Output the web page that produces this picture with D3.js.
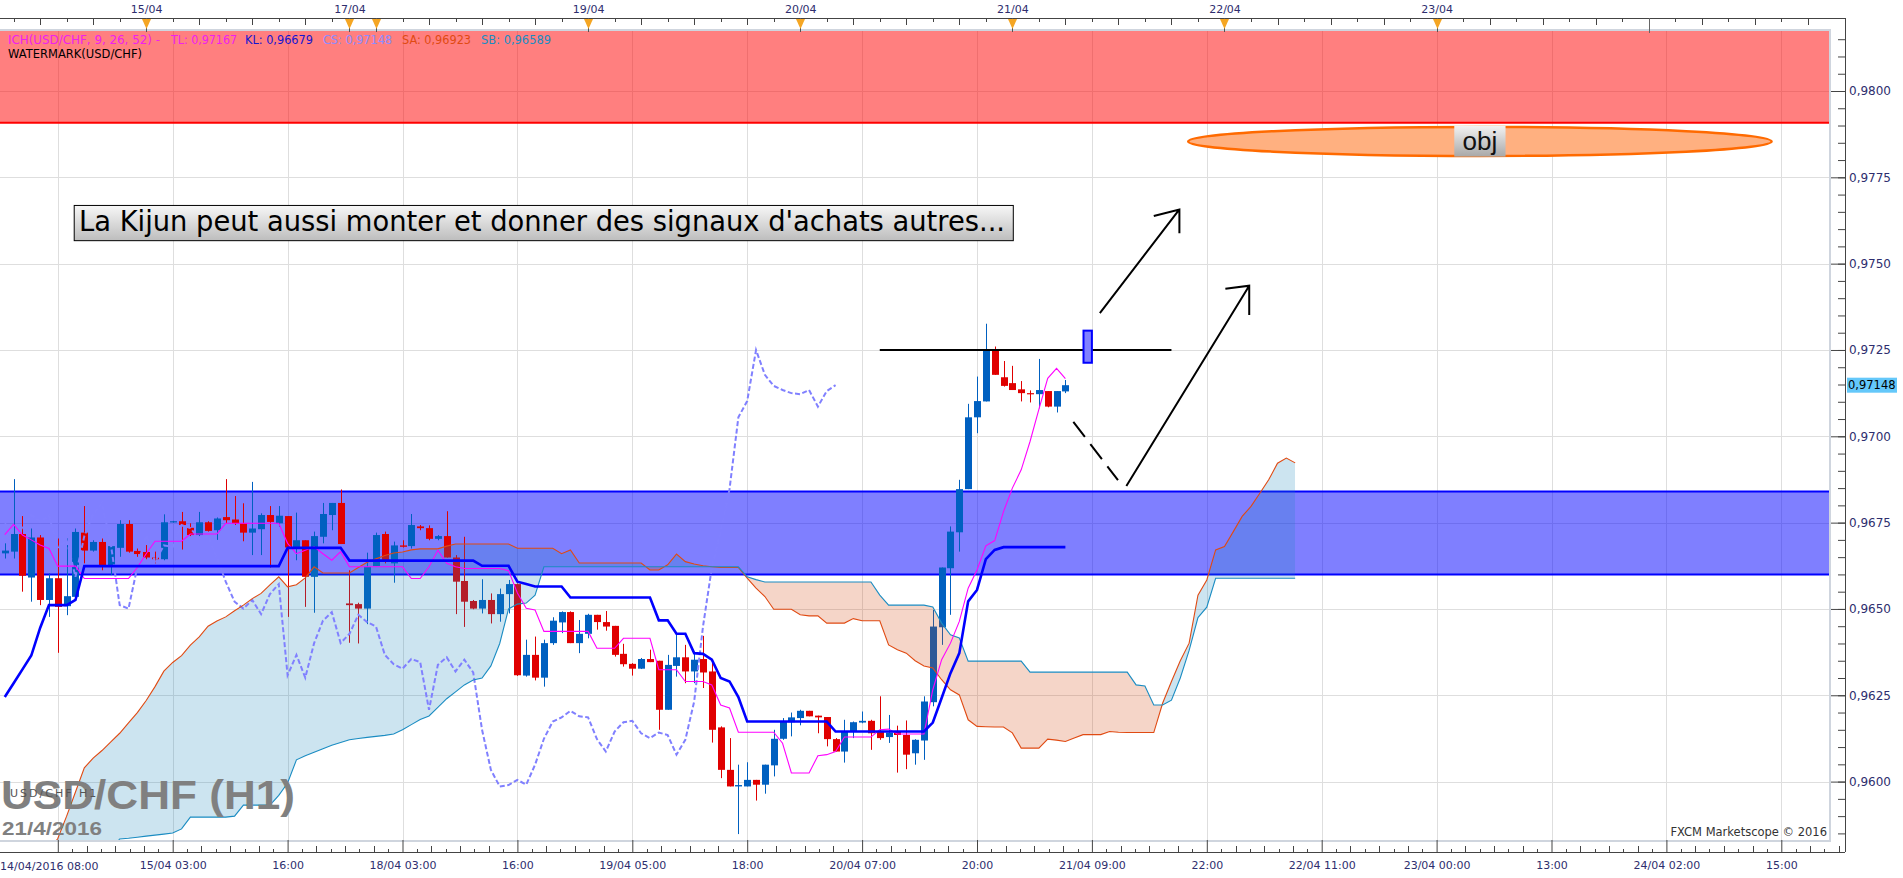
<!DOCTYPE html>
<html><head><meta charset="utf-8">
<script src="https://cdn.jsdelivr.net/npm/d3@7"></script>
<style>html,body{margin:0;padding:0;background:#fff;overflow:hidden}</style>
</head><body>
<svg id="c" width="1903" height="878"></svg>
<script>
// ---------------- DATA ----------------
const firstBar = -19; // bar index of first visible candle (0 = 15/04 03:00)
const opens = [
.96661,.96666,.96717,.96591,.96707,.96526,.96589,.96508,.96535,.96721,.96669,.96694,.96627,.96677,.96746,.96668,.96665,.96649,.96644,
.96751,.96754,.96735,.96714,.96751,.96728,.96766,.96759,.96748,.96721,.96731,.96772,.96748,.96769,.96678,.96699,.96593,.96709,.96772,.96807,
.96516,.96514,.96501,.96624,.96717,.96632,.96684,.96682,.96739,.96734,.96703,.96711,.96649,.96581,.96523,.96501,.96526,.96485,.96543,.96572,
.96307,.96367,.96301,.96401,.96461,.96491,.96401,.96428,.96483,.96462,.96451,.96370,.96341,.96327,.96355,.96350,.96208,.96335,.96360,.96319,
.96355,.96319,.96157,.96034,.95986,.95986,.96005,.95991,.96047,.96124,.96172,.96184,.96205,.96191,.96187,.96123,.96087,.96145,.96171,.96176,
.96145,.96129,.96145,.96135,.96082,.96119,.96230,.96447,.96618,.96722,.96847,.97055,.97101,.97250,.97171,.97154,.97136,.97125,.97122,.97131,
.97086,.97130];
const highs = [
.96690,.96876,.96769,.96733,.96714,.96603,.96704,.96704,.96733,.96798,.96699,.96704,.96685,.96757,.96757,.96675,.96685,.96666,.96774,
.96755,.96781,.96748,.96781,.96754,.96765,.96876,.96827,.96806,.96868,.96777,.96798,.96798,.96769,.96779,.96699,.96724,.96807,.96807,.96846,
.96612,.96518,.96663,.96721,.96724,.96695,.96699,.96775,.96743,.96742,.96714,.96783,.96656,.96709,.96526,.96586,.96545,.96559,.96584,.96574,
.96411,.96420,.96411,.96476,.96493,.96493,.96468,.96486,.96483,.96494,.96451,.96399,.96343,.96358,.96382,.96350,.96367,.96428,.96396,.96372,
.96422,.96348,.96160,.96126,.96049,.96056,.96005,.96049,.96150,.96184,.96200,.96208,.96205,.96191,.96187,.96126,.96179,.96174,.96203,.96179,
.96247,.96193,.96162,.96177,.96123,.96247,.96497,.96620,.96739,.96874,.97094,.97173,.97326,.97260,.97218,.97204,.97160,.97133,.97224,.97131,
.97131,.97163];
const lows = [
.96646,.96646,.96550,.96521,.96511,.96477,.96373,.96482,.96535,.96632,.96666,.96612,.96598,.96651,.96663,.96651,.96644,.96632,.96641,
.96750,.96672,.96711,.96711,.96724,.96700,.96748,.96743,.96696,.96656,.96656,.96620,.96738,.96477,.96641,.96506,.96489,.96690,.96728,.96688,
.96402,.96400,.96456,.96624,.96632,.96576,.96678,.96675,.96728,.96699,.96699,.96649,.96485,.96448,.96499,.96487,.96458,.96463,.96487,.96306,
.96304,.96293,.96275,.96396,.96430,.96401,.96372,.96415,.96440,.96437,.96362,.96333,.96307,.96326,.96346,.96150,.96208,.96304,.96285,.96285,
.96271,.96113,.96010,.95986,.95848,.95986,.95945,.95965,.96015,.96121,.96131,.96163,.96189,.96140,.96102,.96087,.96055,.96126,.96169,.96092,
.96121,.96112,.96026,.96036,.96049,.96063,.96218,.96396,.96483,.96666,.96847,.97009,.97101,.97178,.97144,.97134,.97101,.97098,.97081,.97084,
.97069,.97125];
const closes = [
.96669,.96717,.96596,.96707,.96526,.96589,.96506,.96537,.96723,.96669,.96694,.96627,.96682,.96746,.96666,.96659,.96649,.96644,.96751,
.96754,.96743,.96714,.96751,.96726,.96762,.96757,.96748,.96721,.96733,.96772,.96752,.96770,.96678,.96699,.96593,.96711,.96775,.96807,.96688,
.96511,.96501,.96622,.96714,.96637,.96684,.96680,.96743,.96734,.96703,.96711,.96649,.96579,.96521,.96501,.96526,.96485,.96543,.96572,.96308,
.96367,.96301,.96401,.96466,.96491,.96401,.96428,.96483,.96462,.96449,.96367,.96340,.96327,.96355,.96346,.96208,.96338,.96360,.96319,.96353,
.96316,.96150,.96034,.95986,.95990,.96005,.95991,.96049,.96124,.96174,.96186,.96205,.96189,.96186,.96123,.96087,.96145,.96172,.96176,.96140,
.96126,.96142,.96135,.96078,.96121,.96232,.96449,.96620,.96724,.96847,.97055,.97102,.97250,.97178,.97146,.97134,.97125,.97122,.97134,.97086,
.97131,.97148];
// Tenkan-sen (bars -19..101)
const tenkan = [
.96715,.96745,.96714,.96700,.96685,.96675,.96624,.96624,.96624,.96588,.96588,.96588,.96588,.96588,.96588,.96620,.96660,.96696,.96696,
.96696,.96696,.96717,.96717,.96717,.96717,.96748,.96748,.96748,.96748,.96748,.96748,.96748,
.96690,.96660,.96670,.96680,.96660,.96641,.96666,.96622,
.96622,.96622,.96622,.96622,.96622,.96622,
.96588,.96588,.96622,.96670,.96632,.96622,
.96617,.96617,.96617,.96617,.96617,
.96611,.96546,.96502,.96497,
.96435,.96435,.96435,.96435,.96435,.96435,
.96386,.96386,.96386,
.96415,.96415,.96415,.96415,
.96324,.96324,.96324,
.96290,.96290,.96290,
.96280,.96222,.96213,
.96143,.96143,.96143,.96143,.96143,
.96111,
.96025,.96025,.96025,
.96075,.96078,.96087,
.96129,.96129,.96129,.96129,
.96150,.96152,
.96138,.96138,.96138,.96138,
.96266,.96353,.96401,.96464,.96560,.96613,.96683,.96698,.96782,.96850,.96903,.96985,.97078,.97168,.97197,.97167];
// Kijun-sen (bars -19..101)
const kijun = [
.96245,.96285,.96325,.96365,.96445,.96511,.96511,.96511,.96526,.96624,
.96624,.96624,.96624,.96624,.96624,.96624,.96624,.96624,.96624,.96624,.96624,.96624,.96624,.96624,.96624,.96624,.96624,.96624,.96624,.96624,.96624,.96624,
.96677,.96677,.96677,.96677,.96677,.96677,.96677,
.96640,.96640,.96640,.96640,.96640,.96640,.96640,.96640,.96640,.96640,.96640,.96640,.96640,.96640,.96640,
.96625,.96625,.96625,.96625,
.96579,.96572,
.96565,.96565,.96565,.96565,
.96533,.96533,.96533,.96533,.96533,.96533,.96533,.96533,.96533,.96533,
.96467,.96467,.96428,.96428,.96372,.96370,.96353,.96300,.96290,.96245,
.96174,.96174,.96174,.96174,.96174,.96174,.96174,.96174,.96174,.96174,
.96145,.96145,.96145,.96145,.96145,.96145,.96145,.96145,.96145,.96145,.96145,
.96171,.96242,.96314,.96372,.96522,.96555,.96644,.96671,
.96679,.96679,.96679,.96679,.96679,.96679,.96679,.96679];
// Chikou span (bars -19..75)
const chikou = [
.96748,.96721,.96733,.96772,.96752,.96770,.96678,.96699,.96593,.96711,.96775,.96807,.96688,.96511,.96501,.96622,.96714,.96637,.96684,
.96680,.96743,.96734,.96703,.96711,.96649,.96579,.96521,.96501,.96526,.96485,.96543,.96572,.96308,.96367,.96301,.96401,.96466,.96491,.96401,
.96428,.96483,.96462,.96449,.96367,.96340,.96327,.96355,.96346,.96208,.96338,.96360,.96319,.96353,.96316,.96150,.96034,.95986,.95990,.96005,
.95991,.96049,.96124,.96174,.96186,.96205,.96189,.96186,.96123,.96087,.96145,.96172,.96176,.96140,.96126,.96142,.96135,.96078,.96121,.96232,
.96449,.96620,.96724,.96847,.97055,.97102,.97250,.97178,.97146,.97134,.97125,.97122,.97134,.97086,.97131,.97148];
// Senkou span A (bars -19..127)
const senkouA = [
.95620,.95660,.95700,.95740,.95770,.95800,.95835,.95900,.95970,.96040,.96068,.96090,.96115,.96140,.96170,.96200,.96235,.96275,.96320,
.96345,.96365,.96395,.96419,.96450,.96465,.96477,.96495,.96511,.96530,.96545,.96570,.96593,.96564,.96570,.96590,.96622,
.96604,.96604,.96604,.96604,
.96620,.96635,.96645,.96655,.96662,.96665,.96671,
.96674,.96674,.96674,.96682,
.96688,.96688,.96688,.96688,.96688,.96688,.96688,
.96676,.96676,.96676,.96676,.96676,.96660,.96671,
.96633,.96633,.96633,.96633,.96633,.96633,.96633,.96633,
.96613,.96613,.96628,.96659,.96637,.96630,.96625,.96622,
.96620,.96620,.96620,.96589,.96560,.96536,.96499,.96499,.96499,.96483,.96480,.96480,.96459,.96459,.96459,.96472,.96466,.96466,.96466,
.96396,.96382,.96372,.96350,.96335,.96329,.96295,.96266,.96251,.96179,.96160,
.96159,.96158,.96158,.96141,.96097,.96097,.96097,.96123,.96120,.96116,.96126,.96136,.96136,.96136,.96145,.96143,.96142,.96142,.96142,.96142,
.96227,.96290,.96350,.96401,.96540,.96584,.96671,.96681,.96724,.96768,.96797,.96835,.96874,.96922,.96937,.96923];
// Senkou span B (bars -19..127)
const senkouB = [
.95800,.95800,.95800,.95800,.95800,.95800,.95800,.95800,.95800,.95800,.95800,.95800,.95800,
.95834,.95836,.95839,.95842,.95845,.95848,.95851,.95863,.95897,.95897,.95897,.95897,.95897,.95900,.95932,.95932,.95932,.95932,
.95960,.95996,.96063,.96075,.96085,.96095,.96105,.96113,.96121,.96125,.96128,.96131,.96134,.96138,.96150,.96165,.96180,.96190,.96215,
.96240,.96260,.96280,.96294,.96300,.96335,.96400,.96500,.96514,.96517,.96540,
.96622,.96622,.96622,.96622,.96622,.96622,.96622,.96622,.96622,.96622,.96622,.96622,.96622,.96622,.96622,.96622,.96622,.96622,.96622,.96622,
.96622,.96622,.96622,
.96593,.96585,
.96578,.96578,.96578,.96578,.96578,.96578,.96578,.96578,.96578,.96578,.96578,.96578,.96578,
.96540,.96511,.96511,.96511,.96511,.96511,.96506,.96459,.96425,.96416,
.96349,.96349,.96349,.96349,.96349,.96349,.96349,
.96317,.96317,.96317,.96317,.96317,.96317,.96317,.96317,.96317,.96317,.96317,.96317,
.96280,.96277,.96222,.96222,.96236,.96300,.96380,.96475,.96505,
.96589,.96589,.96589,.96589,.96589,.96589,.96589,.96589,.96589,.96589];
// horizontal zones
const resistanceLow = 0.97908;
const supportLow = 0.9660, supportHigh = 0.9684;
const lastPrice = 0.97148;
// axes
const yTicks = [0.9600,0.9625,0.9650,0.9675,0.9700,0.9725,0.9750,0.9775,0.9800];
const bottomIdx = [0,13,26,39,52,65,78,91,104,117,130,143,156,169,182];
const bottomLabels = ["15/04 03:00","16:00","18/04 03:00","16:00","19/04 05:00","18:00","20/04 07:00","20:00","21/04 09:00","22:00","22/04 11:00","23/04 00:00","13:00","24/04 02:00","15:00"];
const firstLabel = "14/04/2016 08:00";
const dayIdx = [-3,20,23,47,71,95,119,143];
const dayLabels = ["15/04","17/04","","19/04","20/04","21/04","22/04","23/04"];
const legendItems = ["ICH(USD/CHF, 9, 26, 52) -","TL: 0,97167","KL: 0,96679","CS: 0,97148","SA: 0,96923","SB: 0,96589"];

// ---------------- SCALES ----------------
const svg = d3.select('#c');
const P = {l:0, r:1830, t:31, b:841};
const AX = 1845, TOPY = 18, BOTY = 852;
const x = d3.scaleLinear().domain([0,13]).range([172.7,287.6]);
const y = d3.scaleLinear().domain([0.96,0.98]).range([781.6,91]);
const navy = '#2e2e6e';
const FONT = "'DejaVu Sans', Verdana, sans-serif";

svg.append('rect').attr('width',1903).attr('height',878).attr('fill','#fff');
const defs = svg.append('defs');
defs.append('clipPath').attr('id','plotClip').append('rect')
  .attr('x',P.l).attr('y',P.t).attr('width',P.r-P.l).attr('height',P.b-P.t);
const g1 = defs.append('linearGradient').attr('id','gbox').attr('x1',0).attr('y1',0).attr('x2',0).attr('y2',1);
g1.append('stop').attr('offset','0%').attr('stop-color','#f7f7f7');
g1.append('stop').attr('offset','100%').attr('stop-color','#bdbdbd');
const g2 = defs.append('linearGradient').attr('id','gobj').attr('x1',0).attr('y1',0).attr('x2',0).attr('y2',1);
g2.append('stop').attr('offset','0%').attr('stop-color','#f2f2f2');
g2.append('stop').attr('offset','100%').attr('stop-color','#a8a8a8');

const plot = svg.append('g').attr('clip-path','url(#plotClip)');

// grid
const gridIdx = d3.range(-13, 200, 13);
plot.append('g').selectAll('line').data(gridIdx).join('line')
  .attr('x1',d=>Math.round(x(d))+0.5).attr('x2',d=>Math.round(x(d))+0.5)
  .attr('y1',P.t).attr('y2',P.b).attr('stroke','#dedede');
plot.append('g').selectAll('line').data(yTicks).join('line')
  .attr('x1',P.l).attr('x2',P.r)
  .attr('y1',d=>Math.round(y(d))+0.5).attr('y2',d=>Math.round(y(d))+0.5).attr('stroke','#dedede');

// zones
plot.append('rect').attr('x',P.l).attr('width',P.r-P.l).attr('y',P.t-5).attr('height',y(resistanceLow)-P.t+5)
  .attr('fill','rgba(255,0,0,0.5)');
plot.append('line').attr('x1',P.l).attr('x2',P.r).attr('y1',y(resistanceLow)).attr('y2',y(resistanceLow))
  .attr('stroke','#ff0000').attr('stroke-width',2);
plot.append('rect').attr('x',P.l).attr('width',P.r-P.l).attr('y',y(supportHigh)).attr('height',y(supportLow)-y(supportHigh))
  .attr('fill','rgba(0,0,255,0.5)');
[supportLow, supportHigh].forEach(v=>{
  plot.append('line').attr('x1',P.l).attr('x2',P.r).attr('y1',y(v)).attr('y2',y(v))
    .attr('stroke','#0000ff').attr('stroke-width',2);
});

// candles
const bull = '#0060c0', bear = '#e00000';
const bars = opens.map((o,k)=>({i:firstBar+k,o,h:highs[k],l:lows[k],c:closes[k]}));
const cg = plot.append('g');
cg.selectAll('line').data(bars).join('line')
  .attr('x1',d=>Math.round(x(d.i))+0.5).attr('x2',d=>Math.round(x(d.i))+0.5)
  .attr('y1',d=>y(d.h)).attr('y2',d=>y(d.l))
  .attr('stroke',d=>d.c>=d.o?bull:bear).attr('stroke-width',1);
cg.selectAll('rect').data(bars).join('rect')
  .attr('x',d=>Math.round(x(d.i))-3).attr('width',7)
  .attr('y',d=>y(Math.max(d.o,d.c)))
  .attr('height',d=>Math.max(1.2,Math.abs(y(d.o)-y(d.c))))
  .attr('fill',d=>d.c>=d.o?bull:bear);

// cloud
const cloud = senkouA.map((a,k)=>({i:firstBar+k,a,b:senkouB[k]}));
defs.append('clipPath').attr('id','aboveB').append('path')
  .attr('d', d3.area().x(d=>x(d.i)).y0(d=>y(d.b)).y1(-3000)(cloud));
defs.append('clipPath').attr('id','aboveA').append('path')
  .attr('d', d3.area().x(d=>x(d.i)).y0(d=>y(d.a)).y1(-3000)(cloud));
const cl = plot.append('g');
cl.append('path').attr('d', d3.area().x(d=>x(d.i)).y0(3000).y1(d=>y(d.a))(cloud))
  .attr('clip-path','url(#aboveB)').attr('fill','rgb(24,132,187)').attr('fill-opacity',0.22);
cl.append('path').attr('d', d3.area().x(d=>x(d.i)).y0(3000).y1(d=>y(d.b))(cloud))
  .attr('clip-path','url(#aboveA)').attr('fill','rgb(210,64,5)').attr('fill-opacity',0.22);

// watermark
const wm = svg.append('g').attr('font-family',"'Liberation Sans', Arial, sans-serif").attr('font-weight','bold').attr('fill','#808080');
wm.append('text').attr('x',1).attr('y',809).attr('font-size',40).attr('textLength',294).attr('lengthAdjust','spacingAndGlyphs').text('USD/CHF (H1)');
wm.append('text').attr('x',2).attr('y',835).attr('font-size',19).attr('textLength',100).attr('lengthAdjust','spacingAndGlyphs').text('21/4/2016');
svg.append('text').attr('x',10).attr('y',797).attr('font-family',FONT).attr('font-size',11).attr('fill','#555')
  .attr('letter-spacing',2).text('USD/CHF H1');

// ichimoku lines
const lineOf = (arr) => d3.line().x((d,k)=>x(firstBar+k)).y(d=>y(d))(arr);
plot.append('path').attr('d',lineOf(chikou)).attr('fill','none').attr('stroke','#8080ff')
  .attr('stroke-width',2).attr('stroke-dasharray','5,2.5');
plot.append('path').attr('d',lineOf(senkouA)).attr('fill','none').attr('stroke','#e04a12').attr('stroke-width',1.1);
plot.append('path').attr('d',lineOf(senkouB)).attr('fill','none').attr('stroke','#1a8cc2').attr('stroke-width',1.1);
plot.append('path').attr('d',lineOf(tenkan)).attr('fill','none').attr('stroke','#ff00ff').attr('stroke-width',1.1);
plot.append('path').attr('d',lineOf(kijun)).attr('fill','none').attr('stroke','#0000ff').attr('stroke-width',2.6);

// annotations (in bar / price coordinates)
const an = plot.append('g');
an.append('line').attr('x1',x(80)).attr('x2',x(113)).attr('y1',y(0.97250)).attr('y2',y(0.97250))
  .attr('stroke','#000').attr('stroke-width',2);
an.append('rect').attr('x',x(103.05)).attr('width',x(104)-x(103.05)).attr('y',y(0.97306)).attr('height',y(0.97213)-y(0.97306))
  .attr('fill','#8080ff').attr('stroke','#0000ff').attr('stroke-width',2);
an.append('line').attr('x1',x(101.9)).attr('y1',y(0.97042)).attr('x2',x(106.95)).attr('y2',y(0.96873))
  .attr('stroke','#000').attr('stroke-width',2).attr('stroke-dasharray','19,9');
const arrows = [
  {from:[104.9,0.97357], tip:[113.9,0.97657], h1:[111.0,0.97638], h2:[113.9,0.97588]},
  {from:[107.9,0.96856], tip:[121.8,0.97436], h1:[119.1,0.97427], h2:[121.8,0.97351]}];
arrows.forEach(a=>{
  an.append('path').attr('d',`M${x(a.from[0])},${y(a.from[1])}L${x(a.tip[0])},${y(a.tip[1])}`
    +`M${x(a.h1[0])},${y(a.h1[1])}L${x(a.tip[0])},${y(a.tip[1])}L${x(a.h2[0])},${y(a.h2[1])}`)
    .attr('fill','none').attr('stroke','#000').attr('stroke-width',2);
});
// objective ellipse
an.append('ellipse').attr('cx',(x(114.9)+x(180.9))/2).attr('cy',(y(0.97812)+y(0.97896))/2)
  .attr('rx',(x(180.9)-x(114.9))/2).attr('ry',(y(0.97812)-y(0.97896))/2)
  .attr('fill','#ffb080').attr('stroke','#ff6a00').attr('stroke-width',2.5);
an.append('rect').attr('x',x(145.0)).attr('width',x(150.8)-x(145.0)).attr('y',y(0.97899)).attr('height',y(0.97810)-y(0.97899))
  .attr('fill','url(#gobj)');
an.append('text').attr('x',x(147.9)).attr('y',y(0.97829)).attr('text-anchor','middle')
  .attr('font-family',"'Liberation Sans', Arial, sans-serif").attr('font-size',26).attr('fill','#111').text('obj');
// comment box
an.append('rect').attr('x',x(-11.2)+0.5).attr('width',x(95.05)-x(-11.2)).attr('y',y(0.97670)+0.5).attr('height',y(0.97568)-y(0.97670))
  .attr('fill','url(#gbox)').attr('stroke','#000').attr('stroke-width',1);
an.append('text').attr('x',x(-10.6)).attr('y',y(0.97594))
  .attr('font-family',"'Liberation Sans Narrow','DejaVu Sans Condensed','Liberation Sans',sans-serif")
  .attr('font-size',28).attr('fill','#000').attr('textLength',926).attr('lengthAdjust','spacingAndGlyphs')
  .text("La Kijun peut aussi monter et donner des signaux d'achats autres...");

// legend
const legX = [8,171,245,323,402,481];
const legW = [152,66,68,69,69,70];
const legC = ['#f020f0','#f020f0','#1515d0','#8c8cff','#e04a12','#1a8cc2'];
const lg = svg.append('g').attr('font-family',FONT).attr('font-size',11.5);
legendItems.forEach((t,k)=>lg.append('text').attr('x',legX[k]).attr('y',44).attr('fill',legC[k])
  .attr('textLength',legW[k]).attr('lengthAdjust','spacingAndGlyphs').text(t));
lg.append('text').attr('x',8).attr('y',58).attr('fill','#000').text('WATERMARK(USD/CHF)');
svg.append('text').attr('x',1827).attr('y',836).attr('text-anchor','end').attr('font-family',FONT)
  .attr('font-size',11.5).attr('fill','#333').text('FXCM Marketscope © 2016');

// plot border
svg.append('rect').attr('x',-1).attr('y',30).attr('width',P.r+1).attr('height',P.b-30)
  .attr('fill','none').attr('stroke','#cfd5de').attr('stroke-width',2);

// ---------------- AXES ----------------
const axC = '#444';
// right axis
const yMinor = d3.range(0.9585, 0.9821, 0.0005).filter(v=>y(v)>P.t-8 && y(v)<P.b+8);
svg.append('g').attr('transform',`translate(${AX},0)`)
  .call(d3.axisRight(y).tickValues(yMinor).tickSize(-7).tickFormat(''))
  .call(g=>g.select('.domain').remove()).selectAll('line').attr('stroke',axC);
const ya = svg.append('g').attr('transform',`translate(${AX},0)`)
  .call(d3.axisRight(y).tickValues(yTicks).tickSize(-14).tickPadding(4).tickFormat(d=>d.toFixed(4).replace('.',',')));
ya.select('.domain').remove();
ya.selectAll('line').attr('stroke',axC);
ya.selectAll('text').attr('font-family',FONT).attr('font-size',12).attr('fill',navy);
svg.append('line').attr('x1',AX+0.5).attr('x2',AX+0.5).attr('y1',TOPY).attr('y2',BOTY).attr('stroke',axC);
// price label
svg.append('rect').attr('x',1847).attr('y',y(lastPrice)-7.5).attr('width',50).attr('height',15).attr('fill','#64c8fa');
svg.append('text').attr('x',1848).attr('y',y(lastPrice)+4).attr('font-family',FONT).attr('font-size',11.5).attr('fill','#000')
  .text(lastPrice.toFixed(5).replace('.',','));

// bottom axis
svg.append('line').attr('x1',0).attr('x2',AX).attr('y1',BOTY+0.5).attr('y2',BOTY+0.5).attr('stroke',axC);
const minorB = [];
gridIdx.forEach(m=>{ for(let s=1;s<8;s++) minorB.push({i:m+s*13/8, len: s%2? 3:6}); });
svg.append('g').selectAll('line').data(minorB.filter(d=>x(d.i)<AX)).join('line')
  .attr('x1',d=>Math.round(x(d.i))+0.5).attr('x2',d=>Math.round(x(d.i))+0.5)
  .attr('y1',d=>BOTY-d.len).attr('y2',BOTY).attr('stroke',axC);
const bx = svg.append('g').attr('transform',`translate(0,${BOTY})`)
  .call(d3.axisBottom(x).tickValues(gridIdx.filter(d=>x(d)<AX)).tickSizeInner(-12).tickSizeOuter(0).tickFormat(''));
bx.select('.domain').remove(); bx.selectAll('line').attr('stroke',axC);
const bl = svg.append('g').attr('transform',`translate(0,${BOTY})`)
  .call(d3.axisBottom(x).tickValues(bottomIdx).tickSize(0).tickPadding(9).tickFormat((d,k)=>bottomLabels[k]));
bl.select('.domain').remove();
bl.selectAll('text').attr('font-family',FONT).attr('font-size',11).attr('fill',navy);
svg.append('text').attr('x',0).attr('y',BOTY+18).attr('font-family',FONT).attr('font-size',11).attr('fill',navy).text(firstLabel);

// top axis
svg.append('line').attr('x1',0).attr('x2',AX).attr('y1',TOPY+0.5).attr('y2',TOPY+0.5).attr('stroke',axC);
const hourOf = i => i<20 ? (((3+i)%24)+24)%24 : (21+(i-20))%24;
const topT = d3.range(-19, 187).filter(i=>hourOf(i)%3===0 && x(i)<AX).map(i=>({i,len:hourOf(i)%6===0?7:4}));
svg.append('g').selectAll('line').data(topT).join('line')
  .attr('x1',d=>Math.round(x(d.i))+0.5).attr('x2',d=>Math.round(x(d.i))+0.5)
  .attr('y1',TOPY).attr('y2',d=>TOPY+d.len).attr('stroke',axC);
svg.append('line').attr('x1',Math.round(x(167))+0.5).attr('x2',Math.round(x(167))+0.5).attr('y1',TOPY).attr('y2',33).attr('stroke','#666');
const dm = svg.append('g').selectAll('g').data(dayIdx).join('g')
  .attr('transform',d=>`translate(${Math.round(x(d))+0.5},${TOPY})`);
dm.append('line').attr('y1',0).attr('y2',14).attr('stroke','#555');
dm.append('path').attr('d','M-4.5,1L4.5,1L0,11Z').attr('fill','#f5a623');
const ta = svg.append('g').attr('transform',`translate(0,${TOPY})`)
  .call(d3.axisTop(x).tickValues(dayIdx).tickSize(0).tickPadding(5).tickFormat((d,k)=>dayLabels[k]));
ta.select('.domain').remove();
ta.selectAll('text').attr('font-family',FONT).attr('font-size',11).attr('fill',navy);
</script>
</body></html>
